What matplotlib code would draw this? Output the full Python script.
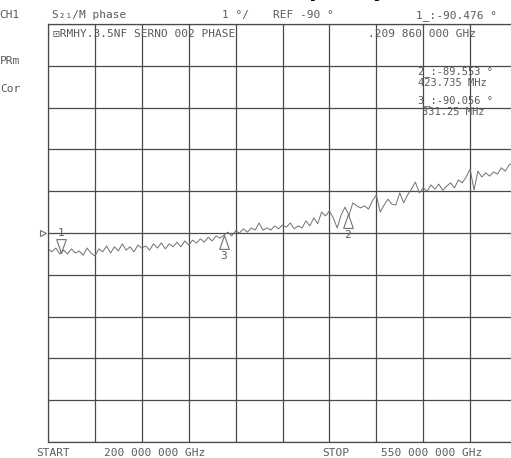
import numpy as np
import matplotlib
matplotlib.use('Agg')
import matplotlib.pyplot as plt
from matplotlib.path import Path

# ===============================================================
# data
# ===============================================================
start_mhz = 200.0
stop_mhz = 550.0
ref_deg = -90.0
scale_deg = 1.0  # deg / div

phase_deg = [
    -90.38, -90.45, -90.36, -90.50, -90.41, -90.50, -90.38, -90.48, -90.43, -90.53,
    -90.36, -90.48, -90.55, -90.38, -90.45, -90.31, -90.48, -90.33, -90.43, -90.26,
    -90.41, -90.33, -90.45, -90.29, -90.36, -90.31, -90.41, -90.26, -90.36, -90.24,
    -90.38, -90.26, -90.33, -90.22, -90.33, -90.19, -90.29, -90.17, -90.24, -90.14,
    -90.22, -90.10, -90.19, -90.07, -90.12, -90.05, -89.98, -90.07, -89.95, -90.00,
    -89.90, -89.98, -89.88, -89.93, -89.76, -89.93, -89.88, -89.93, -89.83, -89.90,
    -89.81, -89.86, -89.76, -89.90, -89.83, -89.88, -89.71, -89.83, -89.64, -89.78,
    -89.50, -89.59, -89.47, -89.64, -89.88, -89.57, -89.38, -89.58, -89.28, -89.35,
    -89.40, -89.35, -89.43, -89.23, -89.09, -89.50, -89.33, -89.19, -89.31, -89.33,
    -89.04, -89.28, -89.09, -88.95, -88.78, -89.04, -88.92, -89.00, -88.85, -88.95,
    -88.83, -88.98, -88.88, -88.80, -88.92, -88.73, -88.80, -88.66, -88.47, -88.97,
    -88.52, -88.66, -88.56, -88.64, -88.54, -88.59, -88.44, -88.52, -88.37, -88.33,
    -88.25,
]
freq_mhz = np.linspace(start_mhz, stop_mhz, len(phase_deg))

marker_id = ['1', '2', '3']
marker_freq = [209.86, 423.735, 331.25]   # MHz
marker_phase = [-90.476, -89.553, -90.056]
marker_up = [False, True, True]           # triangle below trace pointing up

# ===============================================================
# plot settings
# ===============================================================
W, H = 511, 458
grid_c = '#4a4a4a'
trace_c = '#707070'
txt_c = '#5a5a5a'
mono = 'DejaVu Sans Mono'
fs = 8

fig = plt.figure(figsize=(W / 100, H / 100), dpi=100)
fig.patch.set_facecolor('white')
ax = fig.add_axes([48 / W, 16 / H, 469 / W, 418 / H])

ax.set_xlim(start_mhz, stop_mhz)
ax.set_ylim(ref_deg - 5 * scale_deg, ref_deg + 5 * scale_deg)
ax.set_xticks(np.linspace(start_mhz, stop_mhz, 11))
ax.set_yticks(np.linspace(ref_deg - 5 * scale_deg, ref_deg + 5 * scale_deg, 11))
ax.tick_params(length=0, labelbottom=False, labelleft=False)
ax.grid(True, color=grid_c, lw=0.9)
for s in ax.spines.values():
    s.set_color(grid_c)
    s.set_linewidth(0.9)

# trace
ax.plot(freq_mhz, phase_deg, color=trace_c, lw=0.7)

# markers: apex of triangle sits on the trace
tri_dn = Path([(0, 0), (-0.45, 1.3), (0.45, 1.3), (0, 0)],
              [Path.MOVETO, Path.LINETO, Path.LINETO, Path.CLOSEPOLY])
tri_up = Path([(0, 0), (-0.45, -1.3), (0.45, -1.3), (0, 0)],
              [Path.MOVETO, Path.LINETO, Path.LINETO, Path.CLOSEPOLY])
for mid, mf, mp, up in zip(marker_id, marker_freq, marker_phase, marker_up):
    ax.plot(mf, mp, marker=tri_up if up else tri_dn, ms=20, mfc='none',
            mec=trace_c, mew=0.8)
    ax.annotate(mid, (mf, mp), xytext=(0, -15 if up else 14),
                textcoords='offset points', ha='center', va='center',
                fontsize=fs, family=mono, color=txt_c)

# reference position indicator on the left edge
ax.plot([-0.011], [ref_deg], transform=ax.get_yaxis_transform(), marker='>',
        ms=5, mfc='none', mec=trace_c, mew=0.8, clip_on=False)

# ===============================================================
# screen annotations
# ===============================================================
def put(x, y, s, **kw):
    fig.text(x / W, 1 - y / H, s, fontsize=kw.pop('fontsize', fs),
             family=kw.pop('family', mono), color=kw.pop('color', txt_c),
             va='baseline', ha=kw.pop('ha', 'left'), **kw)

put(-1, 18, 'CH1')
put(52, 18, 'S\u2082\u2081/M phase')
put(222, 18, '1 \u00b0/')
put(273, 18, 'REF -90 \u00b0')
put(416, 18, '1_:-90.476 \u00b0')

put(53, 37, '\u22a1RMHY.3.5NF SERNO 002 PHASE')
put(368, 37, '.209 860 000 GHz')

put(0, 64, 'PRm')
put(0, 92, 'Cor')

put(418, 74, '2_:-89.553 \u00b0', fontsize=7.5)
put(418, 86, '423.735 MHz', fontsize=7.5)
put(418, 103, '3_:-90.056 \u00b0', fontsize=7.5)
put(422, 115, '331.25 MHz', fontsize=7.5)

put(36, 456, 'START')
put(104, 456, '200 000 000 GHz')
put(322, 456, 'STOP')
put(381, 456, '550 000 000 GHz')

# page title above the screenshot, mostly cut off
fig.text(325 / W, 1 + 3 / H, 'Frequency', fontsize=15, fontweight='bold',
         color='black', ha='center', va='baseline')

fig.savefig('out.png', dpi=100)
